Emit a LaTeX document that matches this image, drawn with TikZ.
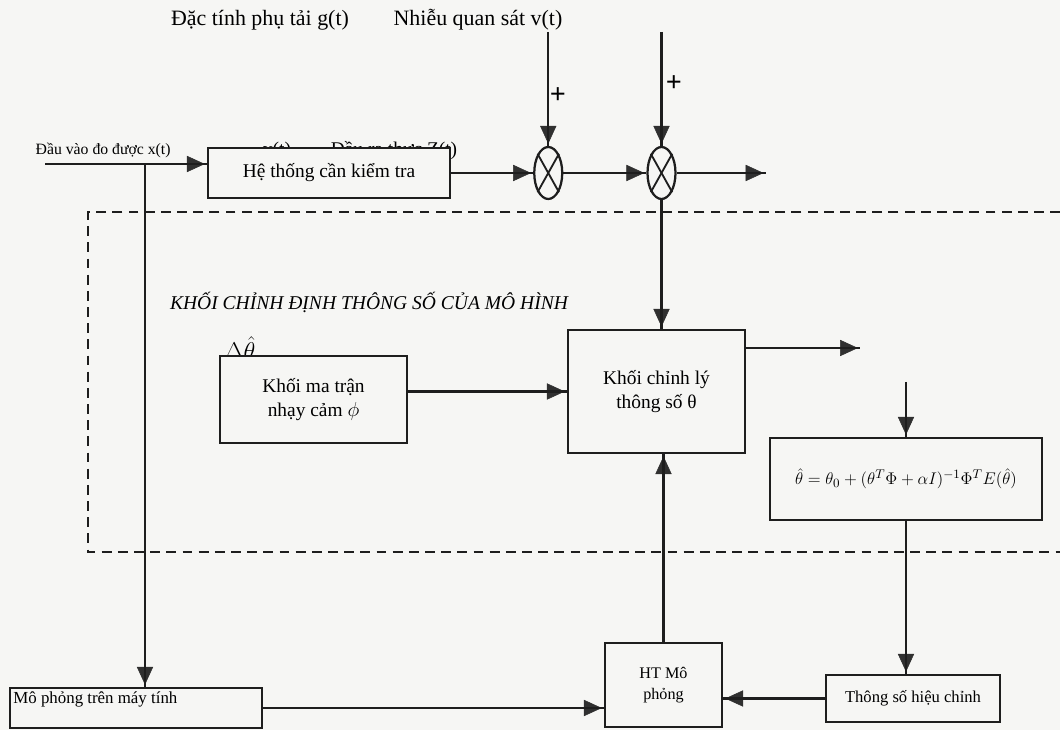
\documentclass[tikz,border=0pt]{standalone}
\usepackage{fontspec}
\setmainfont{Liberation Serif}
\usepackage{tikz}
\usetikzlibrary{
  positioning, calc, shapes.geometric, arrows.meta,
	decorations.markings}
\definecolor{lineCol}{HTML}{1e1e1e}
\definecolor{tipCol}{HTML}{303030}
\definecolor{bgCol}{HTML}{f6f6f4}
\tikzset{
    Arrow/.style = {
        line width=1.6pt, draw=lineCol,
        decoration={
            markings,
            mark=at position 1 with {
                \arrow[#1]{Triangle[length=5.2mm, width=4.6mm]}
                }
            },
        preaction = {decorate}
    },
    Arrow/.default={tipCol},
    Box/.style = {draw=lineCol, line width=1.6pt, fill=bgCol, align=center,
        inner sep=2pt, font=\fontsize{13.8}{16.5}\selectfont},
    Sum/.style = {ellipse, draw=lineCol, line width=1.6pt, fill=bgCol,
        minimum width=0.7cm, minimum height=1.3cm, inner sep=0pt},
    Frame/.style = {draw=lineCol, line width=1.4pt, dash pattern=on 7pt off 4.5pt}
}

\begin{document}
\begin{tikzpicture}
    \fill[bgCol] (0,0) rectangle (26.5,18.25);
    \useasboundingbox (0,0) rectangle (26.5,18.25);
    \node[font=\fontsize{15.6}{18}\selectfont] (G) at (6.5,17.75) {Đặc tính phụ tải g(t)};
    \node[font=\fontsize{15.6}{18}\selectfont] (V) at (11.95,17.75) {Nhiễu quan sát v(t)};
    \node[anchor=base, font=\fontsize{13.8}{16.5}\selectfont] (Yt) at (6.925,14.37) {y(t)};
    \node[anchor=base, font=\fontsize{13.8}{16.5}\selectfont] (Zt) at (9.85,14.37) {Đầu ra thực Z(t)};
    \node[Box, minimum width=6.05cm, minimum height=1.25cm] (Sys) at (8.225,13.925) {Hệ thống cần kiểm tra};
    \node[Sum, right=2.05cm of Sys] (S1) {};
    \node[Sum, right=2.075cm of S1] (S2) {};
    \foreach \s in {S1, S2} {
      \draw[lineCol, line width=1.3pt] (\s.north west) -- (\s.south east);
      \draw[lineCol, line width=1.3pt] (\s.north east) -- (\s.south west);
    }
    \coordinate[right=2.225cm of S2] (Out);
    \coordinate[above=2.85cm of S1.north] (N1);
    \coordinate[above=2.85cm of S2.north] (N2);
    \node[font=\fontsize{20}{20}\selectfont\bfseries] (P1) at (13.95,15.85) {+};
    \node[font=\fontsize{20}{20}\selectfont\bfseries] (P2) at (16.85,16.15) {+};
    \coordinate (In) at (1.125,14.15);
    \coordinate (B) at (3.625,14.15);
    \node[anchor=south west, inner sep=1pt, font=\fontsize{11.2}{13}\selectfont] (InL) at (0.85,14.25) {Đầu vào đo được x(t)};
    \draw[Frame] (26.5,12.95) -- (2.2,12.95) -- (2.2,4.45) -- (26.5,4.45);
    \node[font=\fontsize{13.9}{16}\selectfont\itshape] (T) at (9.225,10.7) {KHỐI CHỈNH ĐỊNH THÔNG SỐ CỦA MÔ HÌNH};
    \node[anchor=base, font=\fontsize{16}{18}\selectfont] (DT) at (6.0,9.25) {$\Delta\hat{\theta}$};
    \node[Box, minimum width=4.675cm, minimum height=2.175cm] (Mat) at (7.8375,8.2625) {Khối ma trận\\nhạy cảm $\phi$};
    \node[Box, minimum width=4.425cm, minimum height=3.075cm] (Adj) at (16.4125,8.4625) {Khối chỉnh lý\\thông số θ};
    \coordinate (AO) at (21.5,9.55);
    \node[Box, minimum width=6.8cm, minimum height=2.05cm, font=\fontsize{12.3}{15}\selectfont] (Form) at (22.65,6.275)
      {$\hat{\theta}=\theta_0+(\theta^T\Phi+\alpha I)^{-1}\Phi^T E(\hat{\theta})$};
    \coordinate[above=1.375cm of Form.north] (FI);
    \node[Box, minimum width=2.925cm, minimum height=2.1cm, font=\fontsize{11.5}{14.5}\selectfont] (HT) at (16.5875,1.125) {HT Mô\\phỏng};
    \node[Box, minimum width=4.35cm, minimum height=1.175cm, font=\fontsize{11.8}{14}\selectfont] (Par) at (22.825,0.7875) {Thông số hiệu chỉnh};
    \node[Box, minimum width=6.3cm, minimum height=1.0cm,
      label={[anchor=north west, inner sep=3pt, font=\fontsize{12}{14}\selectfont]north west:Mô phỏng trên máy tính}] (Sim) at (3.4,0.55) {};
    \draw[Arrow] (In) -- (In -| Sys.west);
    \draw[Arrow] (Sys.east |- S1.west) -- (S1.west);
    \draw[Arrow] (S1.east) -- (S2.west);
    \draw[Arrow] (S2.east) -- (Out);
    \draw[Arrow] (N1) -- (S1.north);
    \draw[Arrow] (N2) -- (S2.north);
    \draw[Arrow] (S2.south) -- (S2.south |- Adj.north);
    \draw[Arrow] (Mat.east |- Adj.west) -- (Adj.west);
    \draw[Arrow] (AO -| Adj.east) -- (AO);
    \draw[Arrow] (FI) -- (Form.north);
    \draw[Arrow] (Form.south) -- (Form.south |- Par.north);
    \draw[Arrow] (Par.west) -- (Par.west -| HT.east);
    \draw[Arrow] (Sim.east) -- (Sim.east -| HT.west);
    \draw[Arrow] (HT.north) -- (HT.north |- Adj.south);
    \draw[Arrow] (B) -- (B |- Sim.north);
  \end{tikzpicture}
\end{document}
